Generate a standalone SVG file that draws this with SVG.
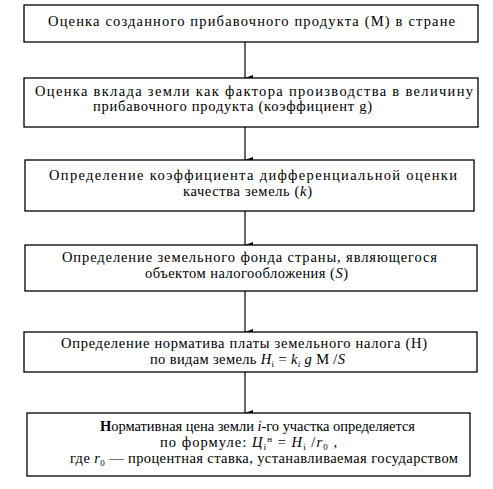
<svg xmlns="http://www.w3.org/2000/svg" width="493" height="489" viewBox="0 0 493 489">
<style>
.box{fill:#fff;stroke:#000;stroke-width:1.3}
.t{font-family:"Liberation Serif","DejaVu Serif","Times New Roman",serif;font-size:14.5px;fill:#000}
.it{font-style:italic}
.con{stroke:#000;stroke-width:1.2;fill:none}
</style>
<defs>
<marker id="ah" viewBox="0 0 6 8" refX="3" refY="8" markerWidth="6" markerHeight="8" orient="auto-start-reverse" markerUnits="userSpaceOnUse">
<path d="M0,0 L6,0 L3,8 Z" fill="#000"/>
</marker>
</defs>
<rect width="493" height="489" fill="#fff"/>
<g id="connectors">
<line class="con" x1="245" y1="42" x2="245" y2="78" marker-end="url(#ah)"/>
<line class="con" x1="245" y1="127" x2="245" y2="160" marker-end="url(#ah)"/>
<line class="con" x1="245" y1="211" x2="245" y2="245" marker-end="url(#ah)"/>
<line class="con" x1="245" y1="291" x2="245" y2="332" marker-end="url(#ah)"/>
<line class="con" x1="245" y1="372" x2="245" y2="413" marker-end="url(#ah)"/>
</g>
<g id="n1">
<rect class="box" x="24" y="5" width="454" height="37"/>
<text class="t" x="48" y="26" textLength="407" lengthAdjust="spacing">Оценка созданного прибавочного продукта (М) в стране</text>
</g>
<g id="n2">
<rect class="box" x="24" y="78" width="454" height="49"/>
<text class="t" x="35" y="96" textLength="438" lengthAdjust="spacing">Оценка вклада земли как фактора производства в величину</text>
<text class="t" x="93" y="111" textLength="279" lengthAdjust="spacing">прибавочного продукта (коэффициент g)</text>
</g>
<g id="n3">
<rect class="box" x="25" y="160" width="449" height="51"/>
<text class="t" x="49" y="180" textLength="408" lengthAdjust="spacing">Определение коэффициента дифференциальной оценки</text>
<text class="t" x="183" y="196" textLength="129" lengthAdjust="spacing">качества земель (<tspan class="it">k</tspan>)</text>
</g>
<g id="n4">
<rect class="box" x="25" y="245" width="452" height="46"/>
<text class="t" x="62" y="262" textLength="375" lengthAdjust="spacing">Определение земельного фонда страны, являющегося</text>
<text class="t" x="145" y="278" textLength="203" lengthAdjust="spacing">объектом налогообложения (<tspan class="it">S</tspan>)</text>
</g>
<g id="n5">
<rect class="box" x="24" y="332" width="453" height="40"/>
<text class="t" x="61" y="348" textLength="366" lengthAdjust="spacing">Определение норматива платы земельного налога (Н)</text>
<text class="t" x="150" y="364" textLength="195" lengthAdjust="spacing">по видам земель <tspan class="it">Н</tspan><tspan font-size="9" dy="3">i</tspan><tspan dy="-3"> = </tspan><tspan class="it">k</tspan><tspan font-size="9" class="it" dy="3">i</tspan><tspan dy="-3"> </tspan><tspan class="it">g</tspan> М /<tspan class="it">S</tspan></text>
</g>
<g id="n6">
<rect class="box" x="27" y="413" width="443" height="63"/>
<text class="t" x="100" y="431" textLength="315" lengthAdjust="spacing"><tspan font-weight="bold">Н</tspan>ормативная цена земли <tspan class="it">i</tspan>-го участка определяется</text>
<text class="t" x="160" y="447" textLength="177" lengthAdjust="spacing">по формуле: <tspan class="it">Ц</tspan><tspan font-size="9" dy="3">i</tspan><tspan font-size="9" dy="-8">н</tspan><tspan dy="5"> = </tspan><tspan class="it">Н</tspan><tspan font-size="9" dy="3">i</tspan><tspan dy="-3"> /</tspan><tspan class="it">r</tspan><tspan font-size="9" dy="3">0</tspan><tspan dy="-3"> ,</tspan></text>
<text class="t" x="70" y="463" textLength="388" lengthAdjust="spacing">где <tspan class="it">r</tspan><tspan font-size="9" dy="3">0</tspan><tspan dy="-3"> — процентная ставка, устанавливаемая государством</tspan></text>
</g>
</svg>
